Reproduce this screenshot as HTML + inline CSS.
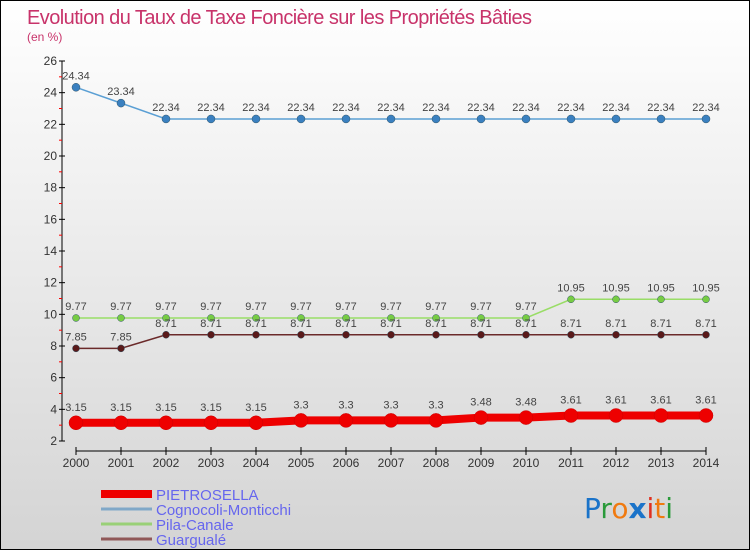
<!DOCTYPE html>
<html><head><meta charset="utf-8"><style>
html,body{margin:0;padding:0}
body{width:750px;height:550px;overflow:hidden;font-family:"Liberation Sans",sans-serif}
#wrap{position:relative;width:748px;height:548px;border:1px solid #000;background:linear-gradient(#ffffff,#d4d4d4)}
</style></head><body>
<div id="wrap">
<svg id="chart" width="748" height="548" style="position:absolute;left:0;top:0">
<text x="26" y="23" font-size="20" fill="#c8336a" textLength="505">Evolution du Taux de Taxe Foncière sur les Propriétés Bâties</text>
<text x="26" y="40" font-size="12" fill="#c8336a">(en %)</text>
<g id="axes"></g><g id="series"></g><g id="legend"></g>
<text x="583" y="517" font-size="28" font-family="'DejaVu Sans',sans-serif"><tspan fill="#1a73c9">P</tspan><tspan fill="#2a9a3a">r</tspan><tspan fill="#f07a10">o</tspan><tspan fill="#1a73c9" font-weight="bold">x</tspan><tspan fill="#e03020">i</tspan><tspan fill="#f07a10">t</tspan><tspan fill="#2a9a3a">i</tspan></text>
</svg></div>
<script>
const years=[2000,2001,2002,2003,2004,2005,2006,2007,2008,2009,2010,2011,2012,2013,2014];
const yTicks=[2,4,6,8,10,12,14,16,18,20,22,24,26];
const pietrosella=[3.15,3.15,3.15,3.15,3.15,3.3,3.3,3.3,3.3,3.48,3.48,3.61,3.61,3.61,3.61];
const cognocoli=[24.34,23.34,22.34,22.34,22.34,22.34,22.34,22.34,22.34,22.34,22.34,22.34,22.34,22.34,22.34];
const pila=[9.77,9.77,9.77,9.77,9.77,9.77,9.77,9.77,9.77,9.77,9.77,10.95,10.95,10.95,10.95];
const guargualé=[7.85,7.85,8.71,8.71,8.71,8.71,8.71,8.71,8.71,8.71,8.71,8.71,8.71,8.71,8.71];
const seriesNames=["PIETROSELLA","Cognocoli-Monticchi","Pila-Canale","Guargualé"];
const NS="http://www.w3.org/2000/svg";
const X=i=>75+i*45, Y=v=>440-(v-2)*(380/24);
function mk(tag,attrs,parent,txt){const e=document.createElementNS(NS,tag);for(const k in attrs)e.setAttribute(k,attrs[k]);if(txt!==undefined)e.textContent=txt;parent.appendChild(e);return e;}
const ax=document.getElementById('axes');
let yl=mk('line',{x1:61,y1:Y(26),x2:61,y2:Y(2),stroke:'#000','stroke-width':1},ax);


yTicks.forEach(t=>{
 mk('line',{x1:58,y1:Y(t),x2:64,y2:Y(t),stroke:'#000'},ax);
 if(t<26) mk('line',{x1:58,y1:Y(t+1),x2:61,y2:Y(t+1),stroke:'#f00'},ax);
 let tl=mk('text',{x:56,y:Y(t)+4,'font-size':12,fill:'#333','text-anchor':'end'},ax,t);
 
 
});
let xl=mk('line',{x1:X(0),y1:450,x2:X(years.length-1),y2:450,stroke:'#000'},ax);


years.forEach((yr,i)=>{
 mk('line',{x1:X(i),y1:446,x2:X(i),y2:454,stroke:'#000'},ax);
 let tl=mk('text',{x:X(i),y:466,'font-size':12,fill:'#333','text-anchor':'middle'},ax,yr);
 
 
});
const sg=document.getElementById('series');
const defs=[[cognocoli,'#5a9fd4','#3a80c0',1.5,4],[pila,'#99dd66','#77cc44',1.5,3.5],[guargualé,'#6b2a2a','#5a1a1a',1.5,3.5],[pietrosella,'#ee0000','#ee0000',8,7]];
const order=[1,2,3,0];
defs.forEach((d,k)=>{
 const [vals,lc,pc,w,r]=d;
 const g=mk('g',{},sg);
 
 
 let p=mk('polyline',{points:vals.map((v,i)=>X(i)+','+Y(v)).join(' '),fill:'none',stroke:lc,'stroke-width':w},g);
 
 
 vals.forEach((v,i)=>{
  let c=mk('circle',{cx:X(i),cy:Y(v),r:r,fill:pc,stroke:k==3?'#c00':'#356','stroke-width':0.5},g);
  
  
  let t=mk('text',{x:X(i),y:Y(v)-(k==3?12:8),'font-size':11,fill:'#444','text-anchor':'middle'},g,v);
  
  
 });
});
const lg=document.getElementById('legend');
const lc=['#ee0000','#80a8c8','#99d077','#905858'],lw=[8,3,3,3];
seriesNames.forEach((n,i)=>{
 const yy=493+i*15;
 const g=mk('g',{},lg);
 
 
 mk('line',{x1:100,y1:yy,x2:151,y2:yy,stroke:lc[i],'stroke-width':lw[i]},g);
 mk('text',{x:155,y:yy+6,'font-size':15,fill:'#6666ee'},g,n);
});
</script>
</body></html>
